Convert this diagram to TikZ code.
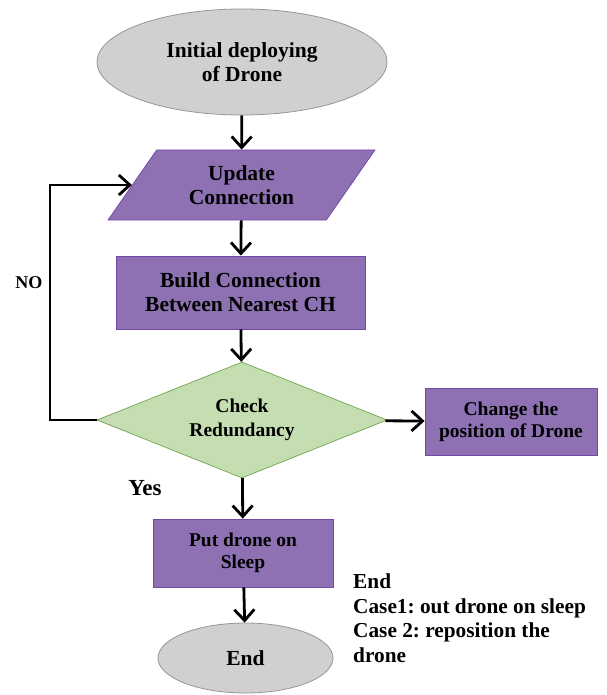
\documentclass[tikz,border=0pt]{standalone}
\usepackage{fontspec}
\setmainfont{Liberation Serif}
\usetikzlibrary{shapes,arrows.meta,positioning}
\definecolor{termgray}{RGB}{208,208,208}
\definecolor{termline}{RGB}{150,150,150}
\definecolor{boxpurple}{RGB}{141,113,178}
\definecolor{boxline}{RGB}{118,72,170}
\definecolor{decgreen}{RGB}{196,222,178}
\definecolor{decline}{RGB}{122,170,92}
\frenchspacing

\begin{document}
\begin{tikzpicture}[x=1pt,y=-1pt,
    every node/.append style={inner sep=0pt, align=center},
    big/.style={font=\bfseries\fontsize{21.5}{24}\selectfont},
    mid/.style={font=\bfseries\fontsize{19.5}{22}\selectfont},
    term/.style={ellipse, draw=termline, fill=termgray, line width=.8pt},
    proc/.style={rectangle, draw=boxline, fill=boxpurple, line width=.8pt},
    io/.style={trapezium, trapezium left angle=52.4, trapezium right angle=127.6,
               trapezium stretches=true, draw=boxline, fill=boxpurple, line width=.8pt},
    decide/.style={diamond, aspect=2.5, draw=decline, fill=decgreen, line width=.8pt},
    flow/.style={line width=2.8pt, -{Straight Barb[length=11pt,width=20pt]}}]
    \useasboundingbox (0,0) rectangle (606,695);
    \node[term, big, minimum width=290pt, minimum height=106pt] (start) at (242,62) {Initial deploying\\of Drone};
    \node[io, big, minimum width=267pt, minimum height=70pt] (upd) at (241.5,185) {Update\\Connection};
    \node[proc, big, minimum width=249pt, minimum height=73pt] (build) at (240.5,292.5) {Build Connection\\Between Nearest CH};
    \node[decide, mid, minimum width=290pt, minimum height=116pt] (chk) at (242,420) {\raisebox{-4pt}{\shortstack{Check\\[7pt]Redundancy}}};
    \node[proc, mid, minimum width=172pt, minimum height=67pt] (move) at (511,421.5) {Change the\\position of Drone};
    \node[proc, mid, minimum width=180pt, minimum height=68pt] (sleep) at (243,553) {Put drone on\\Sleep};
    \node[term, big, minimum width=175pt, minimum height=70pt] (stop) at (245.5,658) {End};
    \node[font=\bfseries\fontsize{18}{20}\selectfont] (no) at (29,283) {NO};
    \node[font=\bfseries\fontsize{23}{26}\selectfont] (yes) at (145,488) {Yes};
    \node[anchor=north west, align=left, font=\bfseries\fontsize{21.3}{24.5}\selectfont] (note) at (353,574)
        {End\\Case1: out drone on sleep\\Case 2: reposition the\\drone};
    \coordinate (back) at (50,420);
    \draw[flow] (start) -- (upd);
    \draw[flow] (upd) -- (build);
    \draw[flow] (build) -- (chk);
    \draw[flow] (chk) -- (sleep);
    \draw[flow] (sleep) -- (stop);
    \draw[flow] (chk) -- (move);
    \draw[flow] (chk.west) -- (back) |- (upd.left side);
\end{tikzpicture}
\end{document}
